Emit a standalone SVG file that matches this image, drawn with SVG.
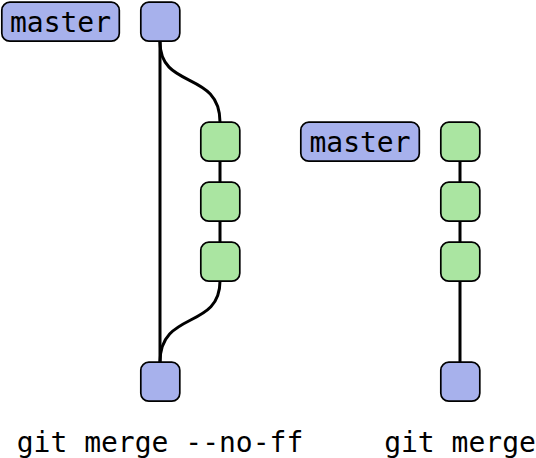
<svg xmlns="http://www.w3.org/2000/svg" width="536" height="458" viewBox="0 0 536 458">
<style>
.b{fill:#a7b1ec;stroke:#000;stroke-width:1.7}
.g{fill:#aae5a1;stroke:#000;stroke-width:1.7}
.c{fill:none;stroke:#000;stroke-width:3}
text{font-family:"DejaVu Sans Mono",monospace;font-size:28px;fill:#000}
</style>
<rect width="536" height="458" fill="#fff"/>
<g id="connectors">
<path class="c" d="M160,41 V362"/>
<path class="c" d="M160,42 C160,90 220,70 220,122"/>
<path class="c" d="M220,281 C220,330 160,310 160,362"/>
<path class="c" d="M220,161 V182 M220,221 V242"/>
<path class="c" d="M460,161 V182 M460,221 V242 M460,281 V362"/>
</g>
<g id="master1"><rect class="b" x="1.8" y="2.2" width="117.5" height="39" rx="8"/><text x="60.5" y="32" text-anchor="middle">master</text></g>
<g id="c1"><rect class="b" x="140.8" y="2.2" width="39" height="39" rx="8"/></g>
<g id="c2"><rect class="g" x="200.8" y="122.2" width="39" height="39" rx="8"/></g>
<g id="c3"><rect class="g" x="200.8" y="182.2" width="39" height="39" rx="8"/></g>
<g id="c4"><rect class="g" x="200.8" y="242.2" width="39" height="39" rx="8"/></g>
<g id="c5"><rect class="b" x="140.8" y="362.2" width="39" height="39" rx="8"/></g>
<g id="master2"><rect class="b" x="300.8" y="122.2" width="118.5" height="39" rx="8"/><text x="360" y="152" text-anchor="middle">master</text></g>
<g id="d1"><rect class="g" x="440.8" y="122.2" width="39" height="39" rx="8"/></g>
<g id="d2"><rect class="g" x="440.8" y="182.2" width="39" height="39" rx="8"/></g>
<g id="d3"><rect class="g" x="440.8" y="242.2" width="39" height="39" rx="8"/></g>
<g id="d4"><rect class="b" x="440.8" y="362.2" width="39" height="39" rx="8"/></g>
<text x="160" y="452" text-anchor="middle">git merge --no-ff</text>
<text x="460" y="452" text-anchor="middle">git merge</text>
</svg>
